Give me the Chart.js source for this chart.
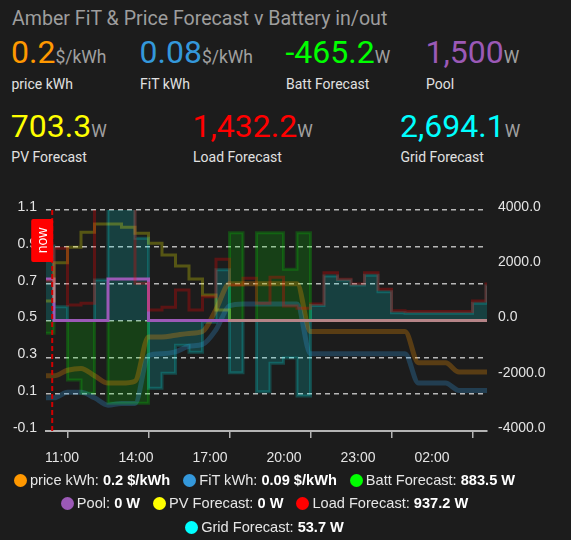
<!DOCTYPE html>
<html><head><meta charset="utf-8">
<script src="https://cdn.jsdelivr.net/npm/chart.js@4.4.1/dist/chart.umd.min.js"></script>
<style>
html,body{margin:0;padding:0;background:#1c1c1c;}
body{width:571px;height:540px;position:relative;overflow:hidden;font-family:Roboto,"Liberation Sans",Arial,sans-serif;}
.t{position:absolute;white-space:nowrap;line-height:1;}
.title{font-size:19.6px;color:#9e9e9e;}
.val{font-size:32px;}
.unit{font-size:17.5px;color:#a0a0a0;}
.lab{font-size:14px;color:#e1e1e1;}
#chartwrap{position:absolute;left:0;top:0;width:571px;height:470px;}
#legend{position:absolute;left:0;top:469px;width:529px;text-align:center;font-family:"Liberation Sans",Arial,sans-serif;font-size:14.6px;line-height:23.3px;color:#e6e6e6;}
.li{display:inline-block;margin:0 6.5px;white-space:nowrap;}
.li b{color:#fff;}
.dot{display:inline-block;width:13px;height:13px;border-radius:50%;vertical-align:-2px;margin-right:3px;}
</style></head><body>
<div id="header"></div>
<div id="chartwrap"><canvas id="c" width="571" height="470"></canvas></div>
<div id="legend"></div>
<script>
// ---------- data ----------
const titleText = "Amber FiT & Price Forecast v Battery in/out";
const seriesNames = ["price kWh","FiT kWh","Batt Forecast","Pool","PV Forecast","Load Forecast","Grid Forecast"];
const seriesColors = ["#ff9800","#3498db","#00ff00","#9b59b6","#ffff00","#ff0000","#00ffff"];
const headerValues = ["0.2","0.08","-465.2","1,500","703.3","1,432.2","2,694.1"];
const headerUnits = ["$/kWh","$/kWh","W","W","W","W","W"];
const legendValues = ["0.2 $/kWh","0.09 $/kWh","883.5 W","0 W","0 W","937.2 W","53.7 W"];

const slotTimes = ["10:00","10:30","11:00","11:30","12:00","12:30","13:00","13:30","14:00","14:30",
  "15:00","15:30","16:00","16:30","17:00","17:30","18:00","18:30","19:00","19:30",
  "20:00","20:30","21:00","21:30","22:00","22:30","23:00","23:30","00:00","00:30",
  "01:00","01:30","02:00","02:30"];
const priceKwh = [0.20,0.20,0.23,0.24,0.20,0.16,0.16,0.17,0.41,0.41,
  0.42,0.43,0.44,0.56,0.70,0.70,0.70,0.70,0.70,0.70,
  0.44,0.44,0.44,0.44,0.44,0.44,0.44,0.44,0.27,0.27,
  0.27,0.22,0.22,0.22];
const fitKwh = [0.08,0.08,0.11,0.11,0.08,0.04,0.05,0.05,0.31,0.32,
  0.33,0.36,0.37,0.45,0.58,0.59,0.59,0.59,0.59,0.59,
  0.32,0.32,0.32,0.32,0.32,0.32,0.32,0.32,0.16,0.16,
  0.16,0.12,0.12,0.12];
const battW = [-465,0,-2154,-2635,0,-2997,-2997,-2997,0,0,
  0,0,0,0,3178,0,3178,3178,1853,3178,
  0,0,0,0,0,0,0,0,0,0,
  0,0,0,0];
const poolW = [1500,0,0,0,0,1500,1500,1500,0,0,
  0,0,0,0,0,0,0,0,0,0,
  0,0,0,0,0,0,0,0,0,0,
  0,0,0,0];
const pvW = [703,2093,2650,3193,3493,3493,3374,3157,2795,2371,
  1973,1502,923,380,0,0,0,0,0,0,
  0,0,0,0,0,0,0,0,0,0,
  0,0,0,0];
const loadW = [1432,2614,561,623,4960,4600,4400,1347,380,478,
  1104,380,862,2215,1285,1528,623,1564,525,442,
  597,1730,1491,1321,1730,1129,355,330,330,330,
  330,330,706,1321];
const gridW = [2694,500,0,0,1466,5600,5500,2975,-2455,-1911,
  -900,-1150,-60,1835,-1890,0,-2577,-1550,-1357,-2733,
  540,1611,1466,1285,1640,1043,282,260,260,260,
  260,260,622,1249];
const xTickLabels = ["11:00","14:00","17:00","20:00","23:00","02:00"];
const nowLabel = "now";
const nowTimeText = "10:26";

// ---------- helpers ----------
function parseHour(s){const [h,m]=s.split(":").map(Number);let v=h+m/60;if(h<10)v+=24;return v;}
function fmtHour(v){let h=Math.round(v)%24;return String(h).padStart(2,"0")+":00";}
const slotHours = slotTimes.map(parseHour);
const endHour = slotHours[slotHours.length-1] + (slotHours[1]-slotHours[0]);
function pts(arr){const p=arr.map((v,i)=>({x:slotHours[i],y:v}));p.push({x:endHour,y:arr[arr.length-1]});return p;}
const tickHours = xTickLabels.map(parseHour);
const nowTime = parseHour(nowTimeText);

// ---------- header ----------
const header = document.getElementById("header");
const tt = document.createElement("div");
tt.className="t title";tt.style.left="12px";tt.style.top="8.6px";tt.textContent=titleText;header.appendChild(tt);
const headerPos = [[11,36.4,76.5],[139.5,36.4,76.5],[285.5,36.4,76.5],[425.5,36.4,76.5],
                   [10.8,109.8,149.9],[192.5,109.8,149.9],[400,109.8,149.9]];
seriesNames.forEach((n,i)=>{
  const v=document.createElement("div");v.className="t";
  v.style.left=headerPos[i][0]+"px";v.style.top=headerPos[i][1]+"px";
  v.innerHTML='<span class="val" style="color:'+seriesColors[i]+'">'+headerValues[i]+'</span><span class="unit">'+headerUnits[i]+'</span>';
  header.appendChild(v);
  const l=document.createElement("div");l.className="t lab";
  l.style.left=(headerPos[i][0]+0.5)+"px";l.style.top=headerPos[i][2]+"px";l.textContent=n;
  header.appendChild(l);
});

// ---------- legend ----------
const legend=document.getElementById("legend");
legend.innerHTML = seriesNames.map((n,i)=>'<span class="li"><span class="dot" style="background:'+seriesColors[i]+'"></span>'+n+': <b>'+legendValues[i]+'</b></span>').join("");

// ---------- chart ----------
Chart.defaults.font.family='"Liberation Sans", Arial, sans-serif';
Chart.defaults.color='#e4e4e4';

function rgba(hex,a){const n=parseInt(hex.slice(1),16);return 'rgba('+(n>>16&255)+','+(n>>8&255)+','+(n&255)+','+a+')';}

const nowPlugin={
  id:'nowLine',
  afterDatasetsDraw(chart){
    const x=chart.scales.x.getPixelForValue(nowTime);
    const {top,bottom}=chart.chartArea;const ctx=chart.ctx;
    ctx.save();
    ctx.strokeStyle='#d00000';ctx.lineWidth=2;ctx.setLineDash([5,3]);
    ctx.beginPath();ctx.moveTo(x,top);ctx.lineTo(x,bottom);ctx.stroke();
    ctx.setLineDash([]);
    const w=22,h=43,bx=x-w+1,by=top+9;
    ctx.fillStyle='#ff0000';
    ctx.beginPath();ctx.roundRect(bx,by,w,h,2);ctx.fill();
    ctx.translate(bx+w/2,by+h/2);ctx.rotate(-Math.PI/2);
    ctx.fillStyle='#ffffff';ctx.font='14px "Liberation Sans", Arial';ctx.textAlign='center';ctx.textBaseline='middle';
    ctx.fillText(nowLabel,0,1);
    ctx.restore();
  }
};

// area series drawn first (higher order), line series on top
const smooth={cubicInterpolationMode:'monotone',borderWidth:5,pointRadius:0,fill:false};
const step={stepped:true,borderWidth:3,pointRadius:0};
const datasets=[
  Object.assign({label:seriesNames[0],data:pts(priceKwh),yAxisID:'y',xAxisID:'x',borderColor:rgba(seriesColors[0],0.27),order:8},smooth),
  Object.assign({label:seriesNames[1],data:pts(fitKwh),yAxisID:'y',xAxisID:'x',borderColor:rgba(seriesColors[1],0.28),order:7},smooth),
  Object.assign({label:seriesNames[2],data:pts(battW),yAxisID:'y2',xAxisID:'x',borderColor:rgba(seriesColors[2],0.2),backgroundColor:rgba(seriesColors[2],0.16),fill:'origin',order:10},step),
  Object.assign({label:seriesNames[3],data:pts(poolW),yAxisID:'y2',xAxisID:'x',borderColor:seriesColors[3],fill:false,order:6},step),
  Object.assign({label:seriesNames[4],data:pts(pvW),yAxisID:'y2',xAxisID:'x',borderColor:rgba(seriesColors[4],0.26),fill:false,order:5},step),
  Object.assign({label:seriesNames[5],data:pts(loadW),yAxisID:'y2',xAxisID:'x',borderColor:rgba(seriesColors[5],0.28),fill:false,order:4},step),
  Object.assign({label:seriesNames[6],data:pts(gridW),yAxisID:'y2',xAxisID:'x',borderColor:rgba(seriesColors[6],0.2),backgroundColor:rgba(seriesColors[6],0.16),fill:'origin',order:9},step)
];

new Chart(document.getElementById('c'),{
  type:'line',
  data:{datasets},
  options:{
    responsive:false,animation:false,
    layout:{padding:{top:210,bottom:2,left:0,right:0}},
    plugins:{legend:{display:false},tooltip:{enabled:false}},
    scales:{
      x:{type:'linear',position:'bottom',min:10.2037,max:26.537,
        afterBuildTicks:s=>{s.ticks=tickHours.map(v=>({value:v}));},
        ticks:{display:false},
        grid:{drawOnChartArea:false,drawTicks:true,tickLength:7,color:'#b4b4b4',lineWidth:1.5},
        border:{display:true,color:'#b4b4b4',width:2},
        afterFit:s=>{s.height=7;}},
      xl:{type:'linear',position:'bottom',min:10.3514,max:28.228,
        afterBuildTicks:s=>{s.ticks=tickHours.map(v=>({value:v}));},
        ticks:{autoSkip:false,maxRotation:0,padding:12,font:{size:14},color:'#e4e4e4',callback:v=>fmtHour(v)},
        grid:{display:false,drawTicks:false},border:{display:false},
        afterFit:s=>{s.height=30;}},
      y:{position:'left',min:-0.1,max:1.1,
        ticks:{stepSize:0.2,padding:9,labelOffset:-3,font:{size:14},color:'#e4e4e4',callback:v=>Number(v).toFixed(1)},
        grid:{color:'rgba(210,210,210,0.85)',lineWidth:1.5,drawTicks:false},
        border:{display:false,dash:[5,4]},
        afterFit:s=>{s.width=46;}},
      y2:{position:'right',min:-4000,max:4000,
        ticks:{stepSize:2000,padding:11,labelOffset:-3,font:{size:14},color:'#e4e4e4',callback:v=>Number(v).toFixed(1)},
        grid:{display:false,drawTicks:false},border:{display:false},
        afterFit:s=>{s.width=84;}}
    }
  },
  plugins:[nowPlugin]
});
</script>
</body></html>
